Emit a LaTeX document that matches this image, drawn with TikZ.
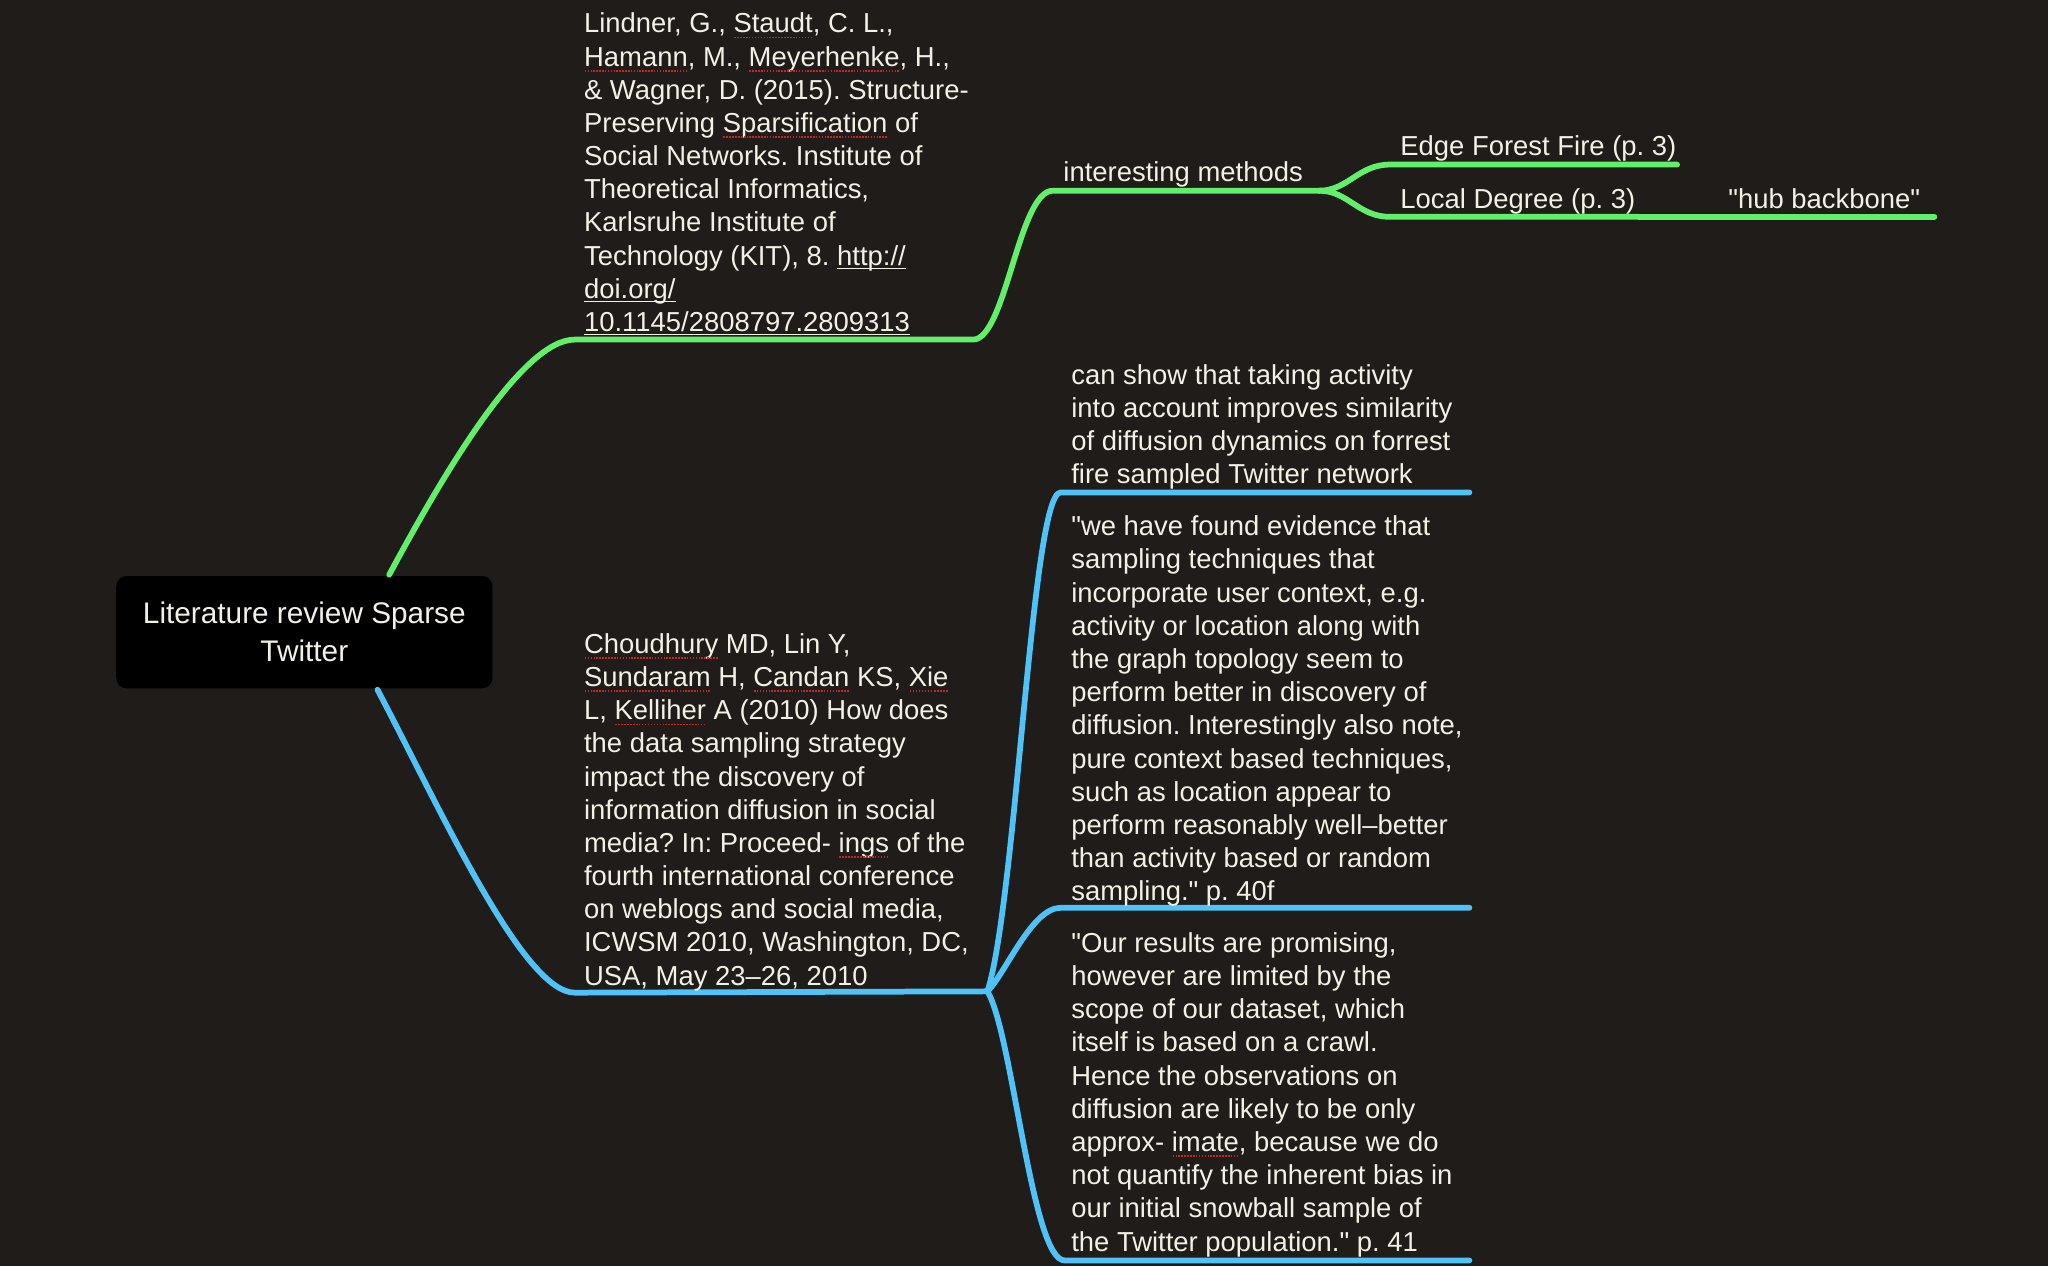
\documentclass[tikz,border=0pt]{standalone}
\usepackage{fontspec}
\setmainfont{Liberation Sans}
\definecolor{bg}{RGB}{31,28,25}
\definecolor{mmgreen}{RGB}{98,240,106}
\definecolor{mmblue}{RGB}{79,195,247}
\definecolor{txt}{RGB}{243,240,230}
\definecolor{spellred}{RGB}{190,40,40}
\newcommand\qt{\XeTeXglyph\XeTeXcharglyph"22\relax}
\newcommand\ulx[1]{{\setbox0\hbox{#1}\copy0\kern-\wd0\lower3pt\hbox{\vrule width\wd0 height1.1pt depth0pt}}}
\newcommand\spell[1]{{\setbox0\hbox{#1}\copy0\kern-\wd0\lower4.2pt\hbox to\wd0{\color{spellred}\xleaders\hbox to 2.2pt{\hss\vrule width1.2pt height1.2pt depth0pt\hss}\hfil}}}
\begin{document}
\frenchspacing
\begin{tikzpicture}[x=1pt,y=-1pt,
  gline/.style={draw=mmgreen,line width=4.4pt,line cap=round,line join=round},
  bline/.style={draw=mmblue,line width=4.4pt,line cap=round,line join=round},
  body/.style={text=txt,inner sep=0pt,align=left,font=\fontsize{21}{25.4}\selectfont\frenchspacing},
  rootbox/.style={fill=black,rounded corners=8pt,minimum width=288pt,minimum height=86pt,
    inner sep=0pt,align=center,text=txt,font=\fontsize{22.8}{29}\selectfont}]
\fill[bg] (0,0) rectangle (1568,969.3);
\useasboundingbox (0,0) rectangle (1568,969.3);

% root
\node[rootbox] (root) at (233,484) {Literature review Sparse\\Twitter};

% anchor coordinates
\coordinate (rootTop) at (298,440);
\coordinate (rootBot) at (289,528);
\coordinate (lindL) at (440,260);
\coordinate (lindR) at (745,260);
\coordinate (imL) at (806,146);
\coordinate (imR) at (1010,146);
\coordinate (efL) at (1064,126);
\coordinate (efR) at (1284,126);
\coordinate (ldL) at (1064,166);
\coordinate (ldR) at (1255,166);
\coordinate (hbR) at (1481,166);
\coordinate (chL) at (440,760);
\coordinate (chR) at (756,759);
\coordinate (csL) at (812,377);
\coordinate (csR) at (1125,377);
\coordinate (wfL) at (812,695);
\coordinate (wfR) at (1125,695);
\coordinate (orL) at (815,965);
\coordinate (orR) at (1125,965);

% green branch
\draw[gline] (rootTop) .. controls (340,362) and (400,260) .. (lindL) -- (lindR)
  .. controls (770,260) and (780,146) .. (imL) -- (imR);
\draw[gline] (imR) .. controls (1032,146) and (1040,126) .. (efL) -- (efR);
\draw[gline] (imR) .. controls (1032,146) and (1040,166) .. (ldL) -- (ldR);
\draw[gline] (ldR) -- (hbR);

% blue branch
\draw[bline] (rootBot) .. controls (335,615) and (400,760) .. (chL) -- (chR);
\draw[bline] (chR) .. controls (778,690) and (790,377) .. (csL) -- (csR);
\draw[bline] (chR) .. controls (770,745) and (790,695) .. (wfL) -- (wfR);
\draw[bline] (chR) .. controls (775,790) and (790,965) .. (orL) -- (orR);

% texts
\node[body,anchor=north west] (lind) at (447,7.22) {\strut Lindner, G., \spell{Staudt}, C. L.,\\
\spell{Hamann}, M., \spell{Meyerhenke}, H.,\\
\& Wagner, D. (2015). Structure-\\
Preserving \spell{Sparsification} of\\
Social Networks. Institute of\\
Theoretical Informatics,\\
Karlsruhe Institute of\\
Technology (KIT), 8. \ulx{http://}\\
\ulx{doi.org/}\\
\ulx{10.1145/2808797.2809313}};

\node[body,anchor=base west] (im) at (814,139) {interesting methods};
\node[body,anchor=base west] (ef) at (1072,119) {Edge Forest Fire (p. 3)};
\node[body,anchor=base west] (ld) at (1072,160) {Local Degree (p. 3)};
\node[body,anchor=base west] (hb) at (1323,160) {\qt hub backbone\qt};

\node[body,anchor=north west] (cs) at (820,276.22) {\strut can show that taking activity\\
into account improves similarity\\
of diffusion dynamics on forrest\\
fire sampled Twitter network};

\node[body,anchor=north west] (wf) at (820,392.22) {\strut \qt we have found evidence that\\
sampling techniques that\\
incorporate user context, e.g.\\
activity or location along with\\
the graph topology seem to\\
perform better in discovery of\\
diffusion. Interestingly also note,\\
pure context based techniques,\\
such as location appear to\\
perform reasonably well–better\\
than activity based or random\\
sampling.\qt{} p. 40f};

\node[body,anchor=north west] (or) at (820,711.22) {\strut \qt Our results are promising,\\
however are limited by the\\
scope of our dataset, which\\
itself is based on a crawl.\\
Hence the observations on\\
diffusion are likely to be only\\
approx- \spell{imate}, because we do\\
not quantify the inherent bias in\\
our initial snowball sample of\\
the Twitter population.\qt{} p. 41};

\node[body,anchor=north west] (ch) at (447,482.22) {\strut \spell{Choudhury} MD, Lin Y,\\
\spell{Sundaram} H, \spell{Candan} KS, \spell{Xie}\\
L, \spell{Kelliher} A (2010) How does\\
the data sampling strategy\\
impact the discovery of\\
information diffusion in social\\
media? In: Proceed- \spell{ings} of the\\
fourth international conference\\
on weblogs and social media,\\
ICWSM 2010, Washington, DC,\\
USA, May 23–26, 2010};
\end{tikzpicture}
\end{document}
